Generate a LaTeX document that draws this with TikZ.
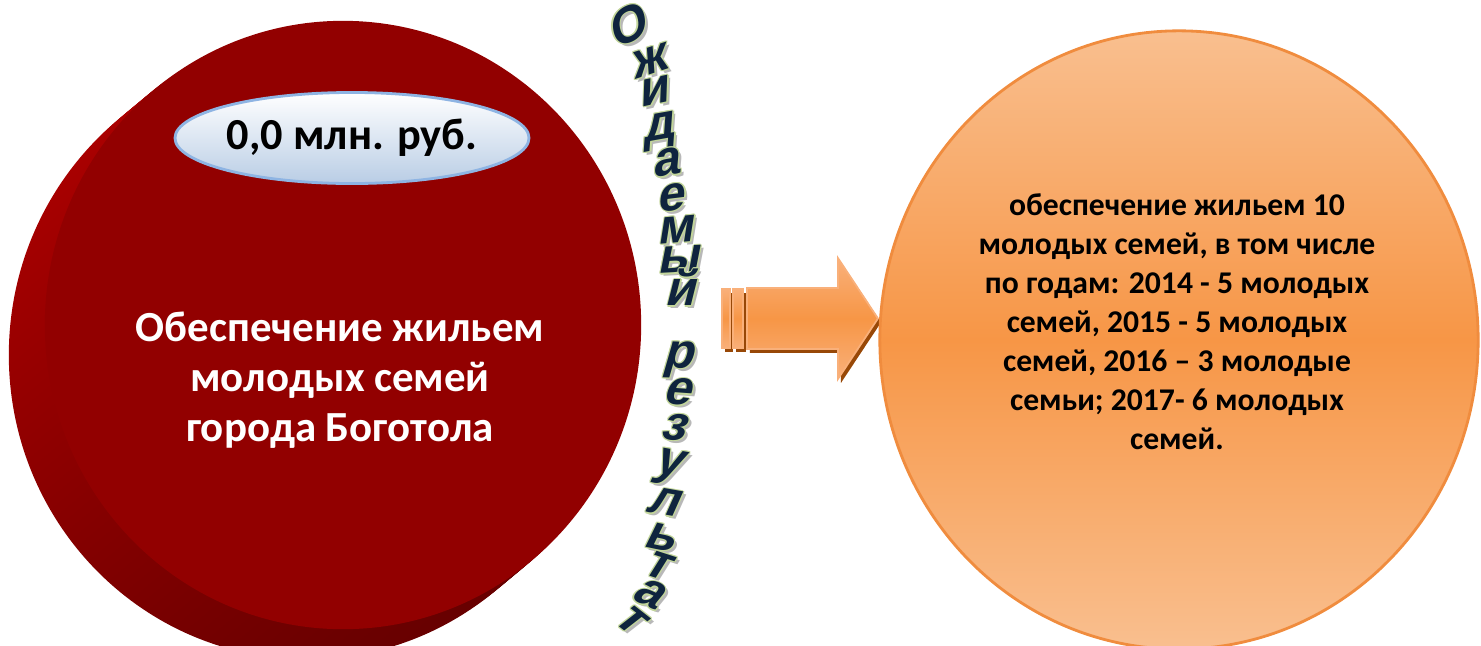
\documentclass[tikz,border=0pt]{standalone}
\usepackage{fontspec}
\setmainfont{Carlito}
\newfontfamily\wafont[FakeSlant=0.25]{Liberation Sans}
\usetikzlibrary{shapes.geometric,shapes.arrows,shadows}

\definecolor{diskred}{HTML}{920000}
\definecolor{sidered}{HTML}{AA0000}
\definecolor{sidedark}{HTML}{680000}
\definecolor{capsulecol}{HTML}{B9CDE5}
\definecolor{capline}{HTML}{8EB4E3}
\definecolor{peach}{HTML}{F9BF8F}
\definecolor{orangemid}{HTML}{F79646}
\definecolor{orangeline}{HTML}{F08C3E}
\definecolor{arrowlight}{HTML}{F9B07A}
\definecolor{arrowshade}{HTML}{984807}
\definecolor{navy}{HTML}{0F243E}
\definecolor{lime}{HTML}{C3D69B}

\tikzset{
  disk/.style={ellipse, inner sep=0pt, minimum width=5.96cm, minimum height=6.08cm},
  rim/.style={disk, top color=sidered, bottom color=sidedark, shading angle=30},
  capsule/.style={ellipse, inner sep=0pt, minimum width=3.45cm, minimum height=0.91cm,
    top color=white, bottom color=capsulecol, draw=capline, line width=0.8pt,
    font=\fontsize{12.6}{14}\selectfont\bfseries},
  goal/.style={ellipse, inner sep=0pt, minimum width=5.98cm, minimum height=6.18cm,
    top color=peach, bottom color=peach, middle color=orangemid,
    draw=orangeline, line width=0.8pt},
  stripe/.style={rectangle, inner sep=0pt, minimum height=0.59cm,
    top color=arrowlight, bottom color=arrowlight, middle color=orangemid,
    draw=arrowlight, line width=0.5pt,
    drop shadow={shadow xshift=0.03cm, shadow yshift=-0.04cm, fill=arrowshade, opacity=1}},
  letter/.style={font=\wafont\bfseries\fontsize{14}{14}\selectfont,
    inner sep=0pt, text height=7.3pt, text depth=0pt}
}

\begin{document}
\begin{tikzpicture}[x=0.01cm, y=-0.01cm]
  \path[use as bounding box] (0,0) rectangle (1481,645);
  \clip (0,0) rectangle (1481,645);

  \foreach \t [count=\k] in {0,0.1,...,0.95}
    \node[rim] (side\k) at (307+36*\t,355-30*\t) {};
  \node[disk, fill=diskred] (front) at (343,325) {};
  \node[capsule] (sum) at (352,138) {0,0 млн. руб.};
  \node[text=white, align=center, font=\fontsize{12.2}{14.3}\selectfont\bfseries]
    (title) at (340,380) {Обеспечение жильем\\молодых семей\\города Боготола};

  \node[stripe, minimum width=0.08cm] (stripe1) at (726,318.5) {};
  \node[stripe, minimum width=0.10cm] (stripe2) at (738,318.5) {};
  \node[single arrow, single arrow head extend=0.30cm, single arrow tip angle=113,
    inner xsep=0pt, inner ysep=0.295cm, minimum height=1.31cm, anchor=tail,
    top color=arrowlight, bottom color=arrowlight, middle color=orangemid,
    draw=arrowlight, line width=0.5pt,
    drop shadow={shadow xshift=0.03cm, shadow yshift=-0.04cm, fill=arrowshade, opacity=1}]
    (arrow) at (746,318.5) {};

  \node[goal] (result) at (1179,340) {};
  \node[align=center, font=\fontsize{9}{11.1}\selectfont\bfseries] (goaltext) at (1177,322)
    {обеспечение жильем 10\\молодых семей, в том числе\\по годам: 2014 - 5 молодых\\
     семей, 2015 - 5 молодых\\семей, 2016 – 3 молодые\\семьи; 2017- 6 молодых\\семей.};

  \foreach \x/\y/\r/\ch [count=\i] in {627/30/25/О, 648/62/18/ж, 653/92/12/и,
      658/127/10/д, 665/163/9/а, 670/198/7/е, 675/230/5/м, 678/260/3/ы,
      680/293/0/й, 678/355/-2/р, 677/392/-4/е, 673/427/-7/з, 668/462/-10/у,
      663/502/-10/л, 660/537/-12/ь, 657/565/-18/т, 648/593/-25/а, 630/619/-38/т}{
    \node[letter, text=black!28, rotate=\r] (shade\i) at (\x+3,\y+3) {\ch};
    \foreach \dx/\dy [count=\j] in {1.2/0, -1.2/0, 0/1.2, 0/-1.2, 0.85/0.85, -0.85/0.85, 0.85/-0.85, -0.85/-0.85}
      \node[letter, text=lime, rotate=\r] (edge\i-\j) at (\x+\dx,\y+\dy) {\ch};
    \node[letter, text=navy, rotate=\r] (let\i) at (\x,\y) {\ch};
  }
\end{tikzpicture}
\end{document}
